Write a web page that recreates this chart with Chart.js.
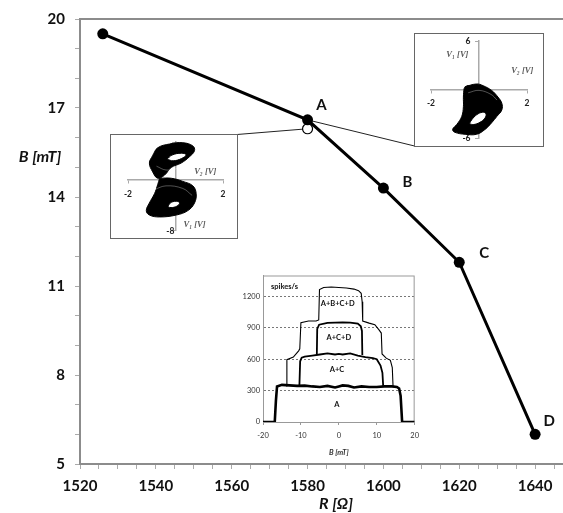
<!DOCTYPE html>
<html lang="en">
<head>
  <meta charset="UTF-8">
  <title>B vs R</title>
  <script src="https://cdn.jsdelivr.net/npm/chart.js"></script>
  <style>
    html, body { margin: 0; padding: 0; background: #fff; overflow: hidden; }
    #wrap { position: relative; width: 563px; height: 513px; overflow: hidden; }
    canvas { position: absolute; }
    #main { left: 0; top: 0; }
    #insetLeft { left: 110px; top: 134px; }
    #insetRight { left: 414px; top: 33px; }
    #insetRate { left: 225px; top: 268px; }
  </style>
</head>
<body>
<div id="wrap">
  <canvas id="main" width="600" height="513"></canvas>
  <canvas id="insetRate" width="200" height="196"></canvas>
  <canvas id="insetLeft" width="128" height="105"></canvas>
  <canvas id="insetRight" width="130" height="114"></canvas>
</div>

<script>
  // main curve
  const resistance = [1526, 1580, 1600, 1620, 1640];
  const field = [19.5, 16.6, 14.3, 11.8, 6.0];
  const pointNames = ['', 'A', 'B', 'C', 'D'];
  const openR = [1580];
  const openB = [16.3];
  const xTickLabels = [1520, 1540, 1560, 1580, 1600, 1620, 1640];
  const yTickLabels = [5, 8, 11, 14, 17, 20];

  // spikes/s inset
  const bA = [-20, -16.9, -16.6, -16.3, -15, -13, -11, -9, -7, -5, -3, -1, 0, 1, 2.5, 4, 6, 8, 10, 12, 14, 15.3, 15.9, 16.3, 16.7, 20];
  const rateA = [0, 0, 200, 340, 355, 350, 345, 348, 340, 335, 345, 330, 340, 350, 345, 330, 340, 335, 335, 340, 340, 335, 320, 250, 0, 0];
  const bAC = [-10.4, -10.2, -9.8, -9, -7, -5, -3, -1, 0, 1, 3, 5, 7, 9, 10, 11, 11.5, 11.7];
  const rateAC = [345, 580, 615, 625, 635, 645, 655, 645, 650, 645, 655, 635, 620, 610, 600, 540, 470, 345];
  const bACD = [-5.8, -5.7, -5.2, -3, -1, 1, 3, 5, 5.8, 6.1, 6.2];
  const rateACD = [645, 890, 930, 948, 950, 952, 950, 940, 915, 870, 640];
  const bABCD = [-13.9, -13.7, -12, -10.6, -10.3, -10, -8, -6, -5.3, -5.1, -4, -2, 0, 2, 4, 5.2, 5.9, 6.15, 6.3, 8, 9.5, 10.6, 11.2, 11.4, 12.5, 13.6, 14.1, 14.3];
  const rateABCD = [345, 595, 620, 680, 700, 950, 965, 965, 975, 1265, 1285, 1290, 1285, 1280, 1270, 1255, 1230, 1150, 965, 945, 930, 880, 850, 650, 610, 590, 520, 345];
  const rateTicks = [0, 300, 600, 900, 1200];

  // phase portrait left (open point below A)
  const leftUpV2 = [-0.96, -0.75, -0.25, 0.31, 0.73, 0.80, 0.59, 0.24, -0.18, -0.46, -0.75, -0.96, -1.10];
  const leftUpV1 = [3.9, 5.1, 5.7, 5.9, 5.4, 4.65, 3.7, 2.7, 2.0, 0.8, 0.3, 1.3, 2.7];
  const leftUpHoleV2 = [-0.35, -0.15, 0.25, 0.45, 0.25, -0.10];
  const leftUpHoleV1 = [3.3, 3.95, 4.25, 4.0, 3.4, 3.05];
  const leftLowV2 = [-0.67, -0.18, 0.31, 0.73, 0.87, 0.80, 0.52, 0.03, -0.67, -1.10, -1.23, -1.10, -0.88, -0.75];
  const leftLowV1 = [0.3, 0.3, -0.2, -0.9, -2.1, -3.6, -4.8, -5.5, -5.8, -5.5, -4.8, -3.6, -2.1, -0.7];
  const leftLowHoleV2 = [-0.32, -0.18, 0.10, 0.17, 0.0, -0.25];
  const leftLowHoleV1 = [-4.1, -3.5, -3.35, -3.7, -4.2, -4.3];
  const leftStreakV2 = [-0.8, -0.4, 0.1, 0.5];
  const leftStreakV1 = [2.2, 1.6, 1.9, 3.0];
  const leftStreak2V2 = [-0.9, -0.4, 0.3, 0.7];
  const leftStreak2V1 = [-1.5, -0.9, -1.3, -2.4];

  // phase portrait right (point A)
  const rightV2 = [-0.58, -0.10, 0.17, 0.53, 0.79, 0.95, 0.95, 0.74, 0.53, 0.25, -0.10, -0.58, -1.00, -1.10, -0.93, -0.72, -0.65, -0.65, -0.62];
  const rightV1 = [0.36, 0.69, 0.48, -0.12, -0.93, -1.69, -2.53, -3.34, -4.10, -4.94, -5.54, -5.54, -5.30, -4.94, -4.34, -3.34, -2.13, -0.93, 0.12];
  const rightHoleV2 = [-0.40, -0.30, -0.10, 0.15, 0.29, 0.25, 0.04, -0.24];
  const rightHoleV1 = [-4.22, -3.73, -3.13, -2.81, -3.01, -3.53, -4.06, -4.34];
  const rightStreakV2 = [-0.45, 0.0, 0.5, 0.75];
  const rightStreakV1 = [-0.4, -0.1, -0.6, -1.3];

  const pts = (xs, ys) => xs.map((x, i) => ({x: x, y: ys[i]}));
  const ring = (xs, ys) => { const p = pts(xs, ys); p.push(p[0]); return p; };

  Chart.defaults.font.family = 'Lato, "Open Sans", sans-serif';
  const grey = '#8c8c8c';
  const ink = '#111';

  // ---------- main chart ----------
  const mainDeco = {
    id: 'mainDeco',
    beforeDatasetsDraw(chart) {
      const {ctx, chartArea: a} = chart;
      ctx.save();
      ctx.strokeStyle = grey;
      ctx.lineWidth = 2;
      ctx.beginPath();
      ctx.moveTo(a.left, a.top);
      ctx.lineTo(a.right, a.top);
      ctx.stroke();

      const line = chart.getDatasetMeta(0).data;
      const open = chart.getDatasetMeta(1).data;
      const L = document.getElementById('insetLeft');
      const Rt = document.getElementById('insetRight');
      ctx.strokeStyle = '#222';
      ctx.lineWidth = 1;
      ctx.beginPath();
      ctx.moveTo(open[0].x, open[0].y);
      ctx.lineTo(L.offsetLeft + L.width - 1, L.offsetTop + 0.5);
      ctx.moveTo(line[1].x, line[1].y);
      ctx.lineTo(Rt.offsetLeft + 0.5, Rt.offsetTop + Rt.height - 1);
      ctx.stroke();
      ctx.restore();
    },
    afterDatasetsDraw(chart) {
      const ctx = chart.ctx;
      const offsets = [[0, 0], [14, -15], [24, -6], [25, -9], [14, -13]];
      const line = chart.getDatasetMeta(0).data;
      ctx.save();
      ctx.fillStyle = ink;
      ctx.font = 'bold 15px Lato';
      ctx.textAlign = 'center';
      ctx.textBaseline = 'middle';
      pointNames.forEach((n, i) => {
        if (n) ctx.fillText(n, line[i].x + offsets[i][0], line[i].y + offsets[i][1]);
      });
      ctx.font = 'italic bold 16px Lato';
      ctx.fillText('B [mT]', 40, 157);
      ctx.restore();
    }
  };

  new Chart(document.getElementById('main'), {
    type: 'scatter',
    data: {
      datasets: [{
        data: pts(resistance, field),
        showLine: true,
        borderColor: '#000',
        borderWidth: 3,
        pointRadius: 5.5,
        pointBackgroundColor: '#000',
        pointBorderWidth: 0
      }, {
        data: pts(openR, openB),
        showLine: false,
        pointRadius: 5,
        pointBackgroundColor: '#fff',
        pointBorderColor: '#000',
        pointBorderWidth: 1.2
      }]
    },
    options: {
      responsive: false,
      animation: false,
      events: [],
      layout: { padding: { top: 18, left: 0, right: 0, bottom: 0 } },
      plugins: { legend: { display: false }, tooltip: { enabled: false } },
      scales: {
        x: {
          type: 'linear', min: 1520, max: 1655,
          ticks: {
            stepSize: 5, autoSkip: false, maxRotation: 0, padding: 8,
            color: ink, font: { size: 15, weight: 'bold' },
            callback: v => xTickLabels.includes(v) ? String(v) : ''
          },
          grid: { drawOnChartArea: false, tickLength: 5, color: '#aaa' },
          border: { color: grey, width: 2 },
          title: {
            display: true, text: 'R [Ω]', color: ink,
            font: { size: 16, weight: 'bold', style: 'italic' },
            padding: { top: 0, bottom: 0 }
          },
          afterFit: s => { s.height = 49; }
        },
        y: {
          min: 5, max: 20,
          ticks: {
            stepSize: 1, autoSkip: false, padding: 10,
            color: ink, font: { size: 15, weight: 'bold' },
            callback: v => yTickLabels.includes(v) ? String(v) : ''
          },
          grid: { drawOnChartArea: false, tickLength: 5, color: '#aaa' },
          border: { color: grey, width: 2 },
          afterFit: s => { s.width = 80; }
        }
      }
    },
    plugins: [mainDeco]
  });

  // ---------- spikes/s inset ----------
  const rateDeco = {
    id: 'rateDeco',
    beforeDatasetsDraw(chart) {
      const {ctx, chartArea: a} = chart;
      ctx.save();
      ctx.strokeStyle = '#999';
      ctx.lineWidth = 1;
      ctx.strokeRect(a.left + 0.5, a.top + 0.5, a.right - a.left - 1, a.bottom - a.top);
      ctx.restore();
    },
    afterDatasetsDraw(chart) {
      const {ctx, chartArea: a, scales: {x, y}} = chart;
      const notes = [['A+B+C+D', -0.3, 1130], ['A+C+D', 0, 805], ['A+C', -0.5, 500], ['A', -0.5, 165]];
      ctx.save();
      ctx.fillStyle = ink;
      ctx.font = 'bold 7.5px Lato';
      ctx.textAlign = 'center';
      ctx.textBaseline = 'middle';
      notes.forEach(n => ctx.fillText(n[0], x.getPixelForValue(n[1]), y.getPixelForValue(n[2])));
      ctx.textAlign = 'left';
      ctx.fillText('spikes/s', a.left + 8, a.top + 11);
      ctx.restore();
    }
  };

  const rateLine = (xs, ys, w) => ({
    data: pts(xs, ys), showLine: true, borderColor: '#000', borderWidth: w, pointRadius: 0
  });

  new Chart(document.getElementById('insetRate'), {
    type: 'scatter',
    data: {
      datasets: [
        rateLine(bA, rateA, 2.6),
        rateLine(bAC, rateAC, 1.8),
        rateLine(bACD, rateACD, 1.8),
        rateLine(bABCD, rateABCD, 1.1)
      ]
    },
    options: {
      responsive: false,
      animation: false,
      events: [],
      layout: { padding: { top: 6, right: 6, left: 0, bottom: 0 } },
      plugins: { legend: { display: false }, tooltip: { enabled: false } },
      scales: {
        x: {
          type: 'linear', min: -20, max: 20,
          ticks: { stepSize: 10, maxRotation: 0, padding: 6, color: '#333', font: { size: 7.5 } },
          grid: { drawOnChartArea: false, tickLength: 3, color: '#999' },
          border: { color: '#999', width: 1 },
          title: {
            display: true, text: 'B [mT]', color: '#333',
            font: { size: 7.5, weight: 'bold', style: 'italic' },
            padding: { top: 0, bottom: 7 }
          },
          afterFit: s => { s.height = 42; }
        },
        y: {
          min: 0, max: 1400,
          afterBuildTicks: s => { s.ticks = rateTicks.map(v => ({ value: v })); },
          ticks: { padding: 3, color: '#333', font: { size: 7.5 }, callback: v => String(v) },
          grid: {
            drawTicks: false,
            color: c => (c.tick && c.tick.value > 0) ? '#777' : 'rgba(0,0,0,0)'
          },
          border: { color: '#999', width: 1, dash: [2, 2] },
          afterFit: s => { s.width = 38; }
        }
      }
    },
    plugins: [rateDeco]
  });

  // ---------- phase portraits ----------
  function phaseChart(id, opts) {
    const frame = {
      id: 'frame',
      beforeDraw(chart) {
        const ctx = chart.ctx;
        ctx.save();
        ctx.strokeStyle = '#666';
        ctx.lineWidth = 1;
        ctx.strokeRect(0.5, 0.5, chart.width - 1, chart.height - 1);
        ctx.restore();
      },
      afterDatasetsDraw(chart) {
        const {ctx, scales: {x, y}} = chart;
        ctx.save();
        ctx.fillStyle = '#5a5a5a';
        ctx.font = 'italic bold 8.5px "Liberation Serif"';
        ctx.textAlign = 'center';
        ctx.textBaseline = 'middle';
        opts.notes.forEach(n => ctx.fillText(n[0], x.getPixelForValue(n[1]), y.getPixelForValue(n[2])));
        ctx.restore();
      }
    };
    const shape = (p, color, order) => ({
      data: p, showLine: true, fill: 'shape', tension: 0.4,
      backgroundColor: color, borderColor: '#000', borderWidth: 1, pointRadius: 0, order: order
    });
    const datasets = opts.blobs.map(p => shape(p, '#000', 3))
      .concat(opts.holes.map(p => shape(p, '#fff', 2)))
      .concat(opts.streaks.map(p => ({
        data: p, showLine: true, tension: 0.4, borderColor: 'rgba(255,255,255,0.4)',
        borderWidth: 0.8, pointRadius: 0, order: 1
      })));
    return new Chart(document.getElementById(id), {
      type: 'scatter',
      data: { datasets: datasets },
      options: {
        responsive: false,
        animation: false,
        events: [],
        layout: { padding: opts.padding },
        plugins: { legend: { display: false }, tooltip: { enabled: false } },
        scales: {
          x: {
            type: 'linear', min: -2, max: 2, position: { y: 0 },
            afterBuildTicks: s => { s.ticks = [-2, 2].map(v => ({ value: v })); },
            ticks: { padding: 6, color: '#222', font: { size: 8.5, weight: 'bold' } },
            grid: { drawOnChartArea: false, tickLength: 3, color: '#aaa' },
            border: { color: '#aaa', width: 1.5 }
          },
          y: {
            min: opts.yMin, max: opts.yMax, position: { x: 0 },
            afterBuildTicks: s => { s.ticks = opts.yTicks.map(v => ({ value: v })); },
            ticks: {
              color: '#222', font: { size: 8.5, weight: 'bold' },
              callback: v => opts.yLabels.includes(v) ? String(v) + opts.gap : ''
            },
            grid: { drawOnChartArea: false, tickLength: 3, color: '#aaa' },
            border: { color: '#aaa', width: 1.5 }
          }
        }
      },
      plugins: [frame]
    });
  }

  phaseChart('insetLeft', {
    yMin: -8, yMax: 6, yTicks: [-8, 6], yLabels: [-8], gap: '\u2009',
    padding: { left: 18, right: 15, top: 7, bottom: 2 },
    blobs: [ring(leftUpV2, leftUpV1), ring(leftLowV2, leftLowV1)],
    holes: [ring(leftUpHoleV2, leftUpHoleV1), ring(leftLowHoleV2, leftLowHoleV1)],
    streaks: [pts(leftStreakV2, leftStreakV1), pts(leftStreak2V2, leftStreak2V1)],
    notes: [['V\u2082 [V]', 1.25, 1.3], ['V\u2081 [V]', 0.8, -7.0]]
  });

  phaseChart('insetRight', {
    yMin: -6, yMax: 6, yTicks: [-6, 0, 6], yLabels: [-6, 0, 6], gap: '\u2002\u2002',
    padding: { left: 17, right: 17, top: 6, bottom: 9 },
    blobs: [ring(rightV2, rightV1)],
    holes: [ring(rightHoleV2, rightHoleV1)],
    streaks: [pts(rightStreakV2, rightStreakV1)],
    notes: [['V\u2081 [V]', -0.9, 4.3], ['V\u2082 [V]', 1.8, 2.3]]
  });
</script>
</body>
</html>
